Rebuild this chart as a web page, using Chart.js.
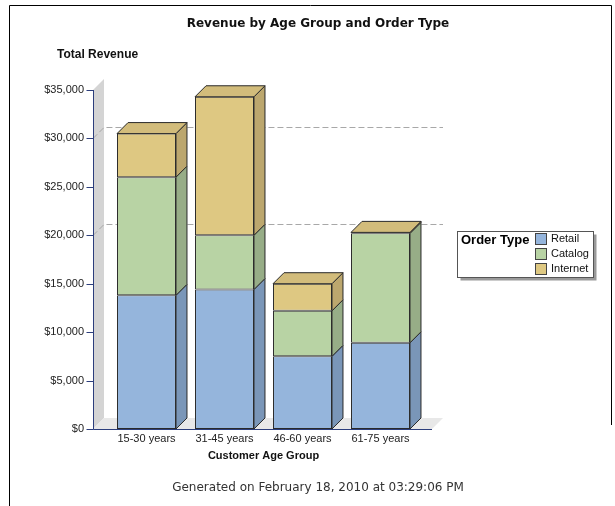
<!DOCTYPE html>
<html>
<head>
<meta charset="utf-8">
<script src="https://cdn.jsdelivr.net/npm/chart.js"></script>
<style>
  html, body { margin: 0; padding: 0; background: #fff; }
  canvas { display: block; }
</style>
</head>
<body>
<canvas id="chart" width="615" height="506"></canvas>
<script>
const ageGroups = ["15-30 years", "31-45 years", "46-60 years", "61-75 years"];
const retail = [13800, 14400, 7500, 8900];
const catalog = [12200, 5600, 4700, 11300];
const internet = [4500, 14300, 2800, 100];
const yTicks = [0, 5000, 10000, 15000, 20000, 25000, 30000, 35000];
const refLines = [20000, 30000];

const seriesNames = ["Retail", "Catalog", "Internet"];
const frontColors = ["#95b5dc", "#b8d3a4", "#dec882"];
const sideColors = ["#7a96b8", "#97ad87", "#bca76e"];
const topColors = ["#88a8cf", "#a9c495", "#d2bc7b"];

const DEPTH = 11;
const AXIS_COLOR = "#2c3e7c";
const OUTLINE = "#2a2a2a";

const money = (v) => "$" + String(v).replace(/\B(?=(\d{3})+(?!\d))/g, ",");

function poly(ctx, pts, fill, stroke) {
  ctx.beginPath();
  ctx.moveTo(pts[0][0], pts[0][1]);
  for (let i = 1; i < pts.length; i++) ctx.lineTo(pts[i][0], pts[i][1]);
  ctx.closePath();
  if (fill) { ctx.fillStyle = fill; ctx.fill(); }
  if (stroke) { ctx.strokeStyle = stroke; ctx.lineWidth = 1; ctx.stroke(); }
}

const scenePlugin = {
  id: "scene",
  beforeDatasetsDraw(chart) {
    const { ctx, chartArea, scales } = chart;
    const y = scales.y;
    const left = chartArea.left - 14.5;
    const right = chartArea.right + 12.5;
    const top = y.getPixelForValue(yTicks[yTicks.length - 1]);
    const bottom = y.getPixelForValue(0);
    ctx.save();
    // side wall and floor of the plot box
    poly(ctx, [[left, top], [left + DEPTH, top - DEPTH], [left + DEPTH, bottom - DEPTH], [left, bottom]], "#d4d4d4");
    poly(ctx, [[left, bottom], [left + DEPTH, bottom - DEPTH], [right + DEPTH, bottom - DEPTH], [right, bottom]], "#e8e8e8");
    // dashed reference lines on the back wall
    ctx.strokeStyle = "#a8a8a8";
    ctx.lineWidth = 1;
    ctx.setLineDash([6, 3]);
    refLines.forEach((v) => {
      const py = Math.round(y.getPixelForValue(v)) + 0.5;
      ctx.beginPath();
      ctx.moveTo(left, py);
      ctx.lineTo(left + DEPTH, py - DEPTH);
      ctx.lineTo(right + DEPTH, py - DEPTH);
      ctx.stroke();
    });
    ctx.restore();
  },
  afterDatasetsDraw(chart) {
    const { ctx } = chart;
    ctx.save();
    const count = chart.data.labels.length;
    for (let i = 0; i < count; i++) {
      let topIdx = -1;
      chart.data.datasets.forEach((ds, d) => {
        const bar = chart.getDatasetMeta(d).data[i];
        if (ds.data[i] <= 0) return;
        const r = bar.x + bar.width / 2;
        poly(ctx, [[r, bar.y], [r + DEPTH, bar.y - DEPTH], [r + DEPTH, bar.base - DEPTH], [r, bar.base]], sideColors[d], OUTLINE);
        topIdx = d;
      });
      if (topIdx >= 0) {
        const bar = chart.getDatasetMeta(topIdx).data[i];
        const l = bar.x - bar.width / 2, r = bar.x + bar.width / 2;
        poly(ctx, [[l, bar.y], [l + DEPTH, bar.y - DEPTH], [r + DEPTH, bar.y - DEPTH], [r, bar.y]], topColors[topIdx], OUTLINE);
      }
    }
    ctx.restore();
  },
  afterDraw(chart) {
    const { ctx, chartArea, scales } = chart;
    const y = scales.y;
    const left = Math.round(chartArea.left - 14.5) + 0.5;
    const right = chartArea.right + 12.5;
    const bottom = Math.round(y.getPixelForValue(0)) + 0.5;
    const top = y.getPixelForValue(yTicks[yTicks.length - 1]);
    ctx.save();

    // axes with tick marks
    ctx.strokeStyle = AXIS_COLOR;
    ctx.lineWidth = 1;
    ctx.beginPath();
    ctx.moveTo(left, top);
    ctx.lineTo(left, bottom);
    ctx.lineTo(right, bottom);
    yTicks.forEach((v) => {
      const py = Math.round(y.getPixelForValue(v)) + 0.5;
      ctx.moveTo(left - 7, py);
      ctx.lineTo(left, py);
    });
    ctx.stroke();

    // page frame
    ctx.strokeStyle = "#000";
    ctx.beginPath();
    ctx.moveTo(9.5, 506);
    ctx.lineTo(9.5, 5.5);
    ctx.lineTo(611.5, 5.5);
    ctx.lineTo(611.5, 425);
    ctx.stroke();

    // titles
    ctx.fillStyle = "#111";
    ctx.textBaseline = "middle";
    ctx.textAlign = "center";
    ctx.font = 'bold 12px "DejaVu Sans"';
    ctx.fillText("Revenue by Age Group and Order Type", 318, 24);
    ctx.textAlign = "left";
    ctx.font = 'bold 12px "Liberation Sans"';
    ctx.fillText("Total Revenue", 57, 55);
    ctx.textAlign = "center";
    ctx.fillStyle = "#333";
    ctx.font = '12px "DejaVu Sans"';
    ctx.fillText("Generated on February 18, 2010 at 03:29:06 PM", 318, 488);

    // legend box
    const bx = 457.5, by = 231.5, bw = 136, bh = 46;
    ctx.fillStyle = "#9a9a9a";
    ctx.fillRect(bx + 3, by + 3, bw, bh);
    ctx.fillStyle = "#fff";
    ctx.fillRect(bx, by, bw, bh);
    ctx.strokeStyle = "#555";
    ctx.strokeRect(bx, by, bw, bh);
    ctx.textAlign = "left";
    ctx.fillStyle = "#000";
    ctx.font = 'bold 13px "Liberation Sans"';
    ctx.fillText("Order Type", 461, 240);
    ctx.font = '11px "Liberation Sans"';
    seriesNames.forEach((name, k) => {
      const cy = 239 + k * 15;
      ctx.fillStyle = frontColors[k];
      ctx.fillRect(535.5, cy - 5.5, 11, 11);
      ctx.strokeStyle = "#444";
      ctx.strokeRect(535.5, cy - 5.5, 11, 11);
      ctx.fillStyle = "#111";
      ctx.fillText(name, 551, cy);
    });
    ctx.restore();
  }
};

const datasets = [retail, catalog, internet].map((values, k) => ({
  label: seriesNames[k],
  data: values,
  backgroundColor: frontColors[k],
  borderColor: OUTLINE,
  borderWidth: 1,
  borderSkipped: false,
  categoryPercentage: 1,
  barPercentage: 0.756
}));

new Chart(document.getElementById("chart"), {
  type: "bar",
  data: { labels: ageGroups, datasets },
  plugins: [scenePlugin],
  options: {
    responsive: false,
    animation: false,
    events: [],
    layout: { padding: { left: 0, right: 195.5, top: 90, bottom: 37 } },
    plugins: {
      legend: { display: false },
      tooltip: { enabled: false },
      title: { display: false }
    },
    scales: {
      x: {
        stacked: true,
        grid: { display: false, drawTicks: false },
        border: { display: false },
        ticks: {
          color: "#222",
          padding: 3,
          maxRotation: 0,
          font: { family: "Liberation Sans", size: 11 }
        },
        title: {
          display: true,
          text: "Customer Age Group",
          color: "#111",
          padding: { top: 0, bottom: 6 },
          font: { family: "Liberation Sans", size: 11, weight: "bold" }
        },
        afterFit(s) { s.height = 40; }
      },
      y: {
        stacked: true,
        min: 0,
        max: 35000,
        grid: { display: false, drawTicks: false },
        border: { display: false },
        afterBuildTicks(s) { s.ticks = yTicks.map((v) => ({ value: v })); },
        ticks: {
          color: "#222",
          padding: 23.5,
          font: { family: "Liberation Sans", size: 11 },
          callback: (v) => money(v)
        },
        afterFit(s) { s.width = 107.5; }
      }
    }
  }
});
</script>
</body>
</html>
